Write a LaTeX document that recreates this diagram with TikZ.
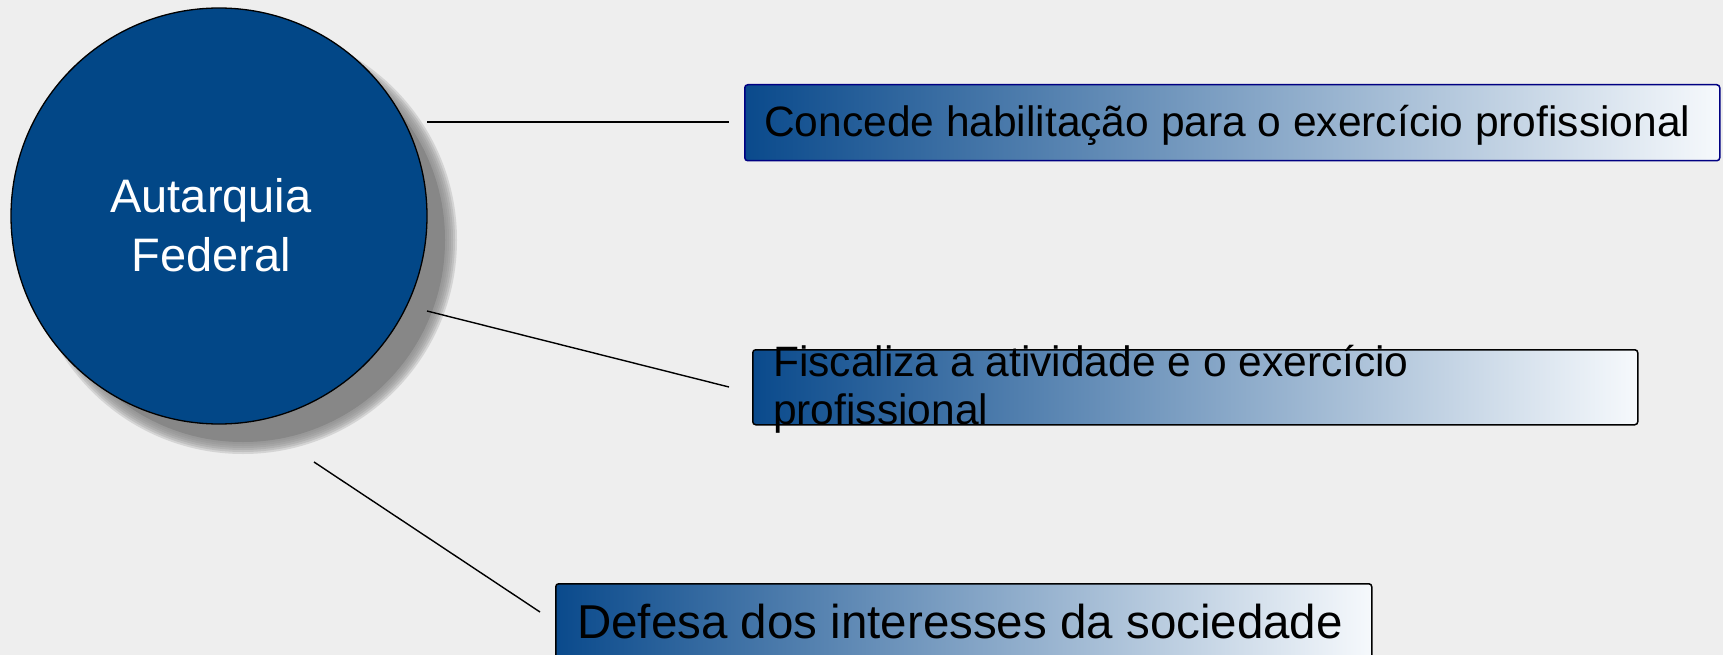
\documentclass[tikz,border=0pt]{standalone}
\usepackage{fontspec}
\setmainfont{Liberation Sans}
\definecolor{bg}{RGB}{238,238,238}
\definecolor{circ}{RGB}{2,71,135}
\definecolor{gdark}{RGB}{10,74,140}
\definecolor{glight}{RGB}{246,249,252}
\definecolor{navyline}{RGB}{0,0,130}
\definecolor{shadowgray}{RGB}{135,135,135}
\tikzset{
  gbox/.style={rectangle, rounded corners=3pt, inner sep=0pt, left color=gdark, right color=glight, line width=1.5pt},
  conn/.style={draw=black, line width=1.4pt},
  lbl/.style={inner sep=0pt, text=black}
}
\begin{document}
\begin{tikzpicture}[x=1pt,y=-1pt]
\useasboundingbox (0,0) rectangle (1723,655);
\clip (0,0) rectangle (1723,655);
\fill[bg] (0,0) rectangle (1723,655);
% shadow of circle
\fill[shadowgray] (243,240) circle (202);
\foreach \i in {1,...,6}
  \fill[shadowgray, opacity=0.25] (243,240) circle ({202+2*\i});
\node[circle, fill=circ, draw=black, line width=1.3pt, minimum size=416pt, inner sep=0pt] (c) at (219,216) {};
\node[lbl, text=white, align=center, font=\fontsize{47}{59}\selectfont] (ct) at (211,225.5) {Autarquia\\Federal};
% boxes
\node[gbox, draw=navyline, minimum width=975pt, minimum height=76pt, anchor=north west] (b1) at (744,84) {};
\node[gbox, draw=black, minimum width=885pt, minimum height=75pt, anchor=north west] (b2) at (752,349) {};
\node[gbox, draw=black, minimum width=816pt, minimum height=78pt, anchor=north west] (b3) at (555,583) {};
\node[lbl, anchor=base west, font=\fontsize{42.5}{48}\selectfont] (t1) at (764,137) {Concede habilitação para o exercício profissional};
\node[lbl, anchor=west, align=left, font=\fontsize{42.5}{48}\selectfont] (t2) at (773,389) {Fiscaliza a atividade e o exercício\\profissional};
\node[lbl, anchor=base west, font=\fontsize{47.5}{55}\selectfont] (t3) at (577,638) {Defesa dos interesses da sociedade};
% connectors
\coordinate (p1a) at (427,122);
\coordinate (p1b) at (729,122);
\coordinate (p2a) at (427,311);
\coordinate (p2b) at (729,387);
\coordinate (p3a) at (314,462);
\coordinate (p3b) at (540,612);
\draw[conn] (p1a) -- (p1b);
\draw[conn] (p2a) -- (p2b);
\draw[conn] (p3a) -- (p3b);
\end{tikzpicture}
\end{document}
